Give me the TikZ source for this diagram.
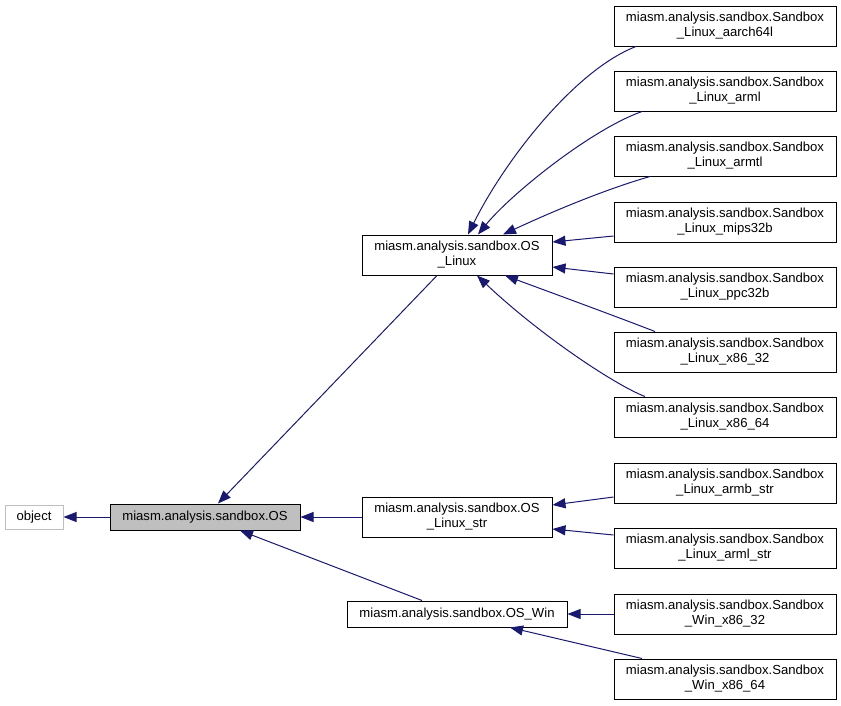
\documentclass[tikz,border=0pt]{standalone}
\usepackage{fontspec}
\setmainfont{Liberation Sans}
\usetikzlibrary{arrows.meta}
\definecolor{edge blue}{RGB}{25,25,112}
\definecolor{box gray}{RGB}{191,191,191}
\tikzset{cls/.style={draw=black, fill=white, line width=1pt, align=center, inner sep=0pt,
        minimum width=222pt, minimum height=40pt, font=\fontsize{13.1}{15}\selectfont},
    single/.style={cls, minimum height=26pt},
    inherit/.style={draw=edge blue, line width=1pt, -{Triangle[length=13pt,width=10pt]}}}

\begin{document}
\begin{tikzpicture}[x=1pt, y=-1pt]
 \useasboundingbox (0,0) rectangle (841,705);

 % bases
 \node[single, draw=box gray, minimum width=58pt, minimum height=24pt] (object) at (34,517) {object};
 \node[single, fill=box gray, minimum width=190pt] (os) at (205,517) {miasm.analysis.sandbox.OS};
 \node[cls, minimum width=190pt] (lx) at (457,255) {miasm.analysis.sandbox.OS\\\_Linux};
 \node[cls, minimum width=190pt] (ls) at (457,517) {miasm.analysis.sandbox.OS\\\_Linux\_str};
 \node[single, minimum width=220pt] (win) at (457,614) {miasm.analysis.sandbox.OS\_Win};

 % sandboxes
 \node[cls] (aarch) at (725,26) {miasm.analysis.sandbox.Sandbox\\\_Linux\_aarch64l};
 \node[cls] (arml) at (725,91) {miasm.analysis.sandbox.Sandbox\\\_Linux\_arml};
 \node[cls] (armtl) at (725,156) {miasm.analysis.sandbox.Sandbox\\\_Linux\_armtl};
 \node[cls] (mips) at (725,222) {miasm.analysis.sandbox.Sandbox\\\_Linux\_mips32b};
 \node[cls] (ppc) at (725,287) {miasm.analysis.sandbox.Sandbox\\\_Linux\_ppc32b};
 \node[cls] (lx32) at (725,352) {miasm.analysis.sandbox.Sandbox\\\_Linux\_x86\_32};
 \node[cls] (lx64) at (725,417) {miasm.analysis.sandbox.Sandbox\\\_Linux\_x86\_64};
 \node[cls] (armbs) at (725,483) {miasm.analysis.sandbox.Sandbox\\\_Linux\_armb\_str};
 \node[cls] (armls) at (725,548) {miasm.analysis.sandbox.Sandbox\\\_Linux\_arml\_str};
 \node[cls] (win32) at (725,614) {miasm.analysis.sandbox.Sandbox\\\_Win\_x86\_32};
 \node[cls] (win64) at (725,679) {miasm.analysis.sandbox.Sandbox\\\_Win\_x86\_64};

 \draw[inherit] (os.west) -- (object.east);
 \draw[inherit] ([xshift=-20pt]lx.south) -- ([xshift=13pt]os.north);
 \draw[inherit] (ls.west) -- (os.east);
 \draw[inherit] ([xshift=-35pt]win.north) -- ([xshift=35pt]os.south);

 \draw[inherit] ([xshift=-89pt]aarch.south) .. controls (575,70) and (505,160) .. ([xshift=11pt]lx.north);
 \draw[inherit] ([xshift=-83pt]arml.south) .. controls (590,130) and (510,195) .. ([xshift=21pt]lx.north);
 \draw[inherit] ([xshift=-75pt]armtl.south) .. controls (610,188) and (560,208) .. ([xshift=46pt]lx.north);
 \draw[inherit] ([yshift=-14pt]mips.west) -- ([yshift=13pt]lx.east);
 \draw[inherit] ([yshift=13pt]ppc.west) -- ([yshift=-12pt]lx.east);
 \draw[inherit] ([xshift=-70pt]lx32.north) .. controls (615,316) and (555,294) .. ([xshift=48pt]lx.south);
 \draw[inherit] ([xshift=-80pt]lx64.north) .. controls (615,385) and (540,335) .. ([xshift=20pt]lx.south);

 \draw[inherit] ([yshift=-14pt]armbs.west) -- ([yshift=12pt]ls.east);
 \draw[inherit] ([yshift=13pt]armls.west) -- ([yshift=-12pt]ls.east);

 \draw[inherit] (win32.west) -- (win.east);
 \draw[inherit] ([xshift=-83pt]win64.north) -- ([xshift=53pt]win.south);

\end{tikzpicture}
\end{document}
